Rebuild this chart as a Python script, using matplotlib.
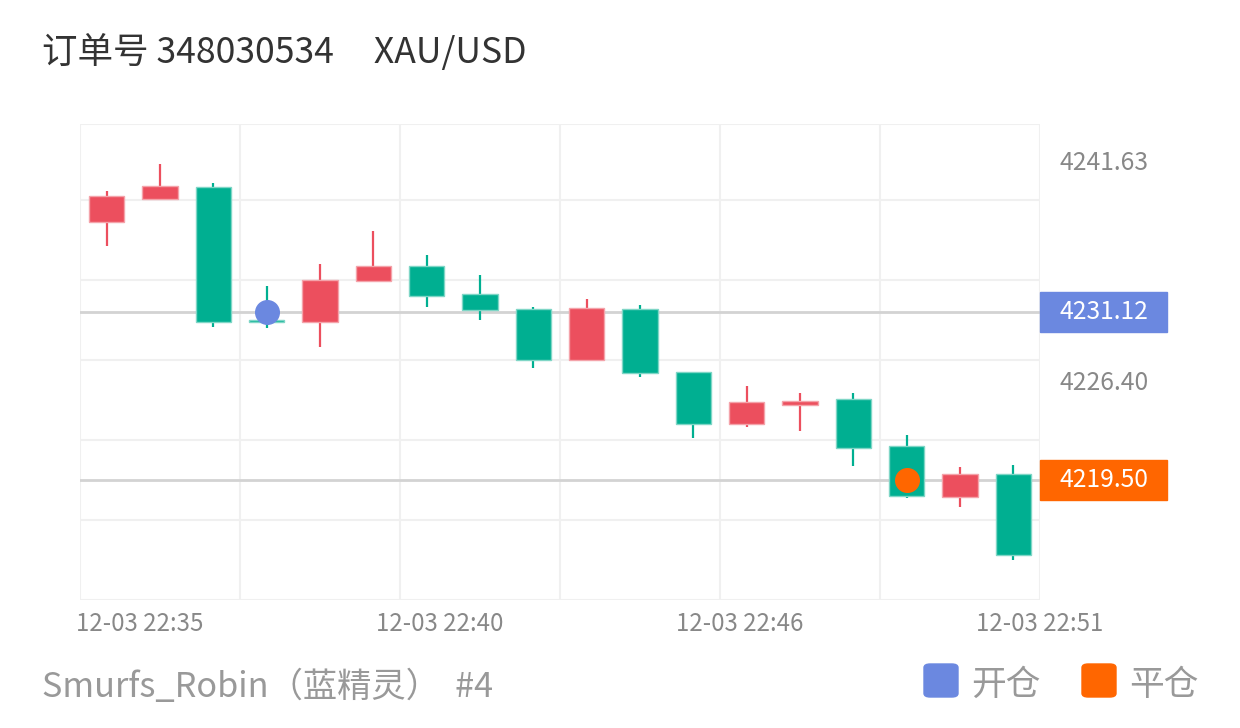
import matplotlib
matplotlib.use("Agg")
import matplotlib.pyplot as plt
from matplotlib.patches import Rectangle, FancyBboxPatch

plt.rcParams['font.family'] = ['Noto Sans CJK SC', 'DejaVu Sans']

# candle data
opens = [4237.32, 4238.95, 4239.76, 4230.52, 4230.42, 4233.23, 4234.29, 4232.35, 4231.34,
         4227.78, 4231.32, 4226.97, 4223.37, 4224.69, 4225.08, 4221.83, 4218.32, 4219.87]
closes = [4239.16, 4239.83, 4230.39, 4230.38, 4233.34, 4234.27, 4232.19, 4231.25, 4227.78,
          4231.40, 4226.86, 4223.33, 4224.86, 4224.97, 4221.71, 4218.35, 4219.87, 4214.26]
highs = [4239.48, 4241.37, 4240.02, 4232.91, 4234.43, 4236.71, 4235.05, 4233.65, 4231.45,
         4232.01, 4231.57, 4226.97, 4225.96, 4225.48, 4225.52, 4222.59, 4220.40, 4220.51]
lows = [4235.68, 4238.95, 4230.07, 4230.02, 4228.66, 4233.23, 4231.47, 4230.57, 4227.21,
        4227.78, 4226.61, 4222.41, 4223.13, 4222.89, 4220.45, 4218.25, 4217.63, 4213.92]

open_idx, open_price = 3, 4231.12
close_idx, close_price = 15, 4219.50

ytick_vals = [4241.63, 4226.40]
xtick_pos = [0.625, 6.25, 11.875, 17.5]
xtick_labels = ["12-03 22:35", "12-03 22:40", "12-03 22:46", "12-03 22:51"]

up_color = "#ec4f5e"
up_edge = "#f4a3aa"
down_color = "#00af91"
down_edge = "#7fd6c6"
blue = "#6b88e0"
orange = "#ff6600"

fig = plt.figure(figsize=(12.4, 7.28), dpi=100)
ax = fig.add_axes([80/1240, 128/728, 960/1240, 476/728])

y_min, y_max = 4211.17, 4244.12
ax.set_xlim(-0.5, len(opens) - 0.5)
ax.set_ylim(y_min, y_max)

# grid
step = 80 / 14.445
for k in range(1, 6):
    ax.axhline(y_min + k * step, color="#f0f0f0", lw=1.5, zorder=0)
ax.axhline(y_max, color="#f0f0f0", lw=1.5, zorder=0)
ax.axhline(y_min, color="#f0f0f0", lw=1.5, zorder=0)
for gx in range(0, len(opens) + 1, 3):
    ax.axvline(gx - 0.5, color="#f0f0f0", lw=1.5, zorder=0)

# price lines
ax.axhline(open_price, color="#d3d3d3", lw=2, zorder=1)
ax.axhline(close_price, color="#d3d3d3", lw=2, zorder=1)

# candles
for i in range(len(opens)):
    o, c, h, l = opens[i], closes[i], highs[i], lows[i]
    up = c >= o
    fc = up_color if up else down_color
    ec = up_edge if up else down_edge
    ax.vlines(i, l, h, color=fc, lw=1.6, zorder=2)
    bottom = min(o, c)
    height = max(abs(c - o), 0.2)
    ax.bar(i, height, bottom=bottom, width=0.66, color=fc, edgecolor=ec, lw=1, zorder=3)

# trade markers
ax.plot(open_idx, open_price, "o", ms=17, color=blue, zorder=4)
ax.plot(close_idx, close_price, "o", ms=17, color=orange, zorder=4)

for s in ax.spines.values():
    s.set_visible(False)

ax.yaxis.tick_right()
ax.set_yticks(ytick_vals)
ax.set_yticklabels(["%.2f" % v for v in ytick_vals])
ax.tick_params(axis="y", length=0, pad=14, labelsize=17.8, labelcolor="#888888")
ax.set_xticks(xtick_pos)
ax.set_xticklabels(xtick_labels)
ax.tick_params(axis="x", length=0, pad=8, labelsize=17.3, labelcolor="#888888")

# right side price tags
tr = ax.get_yaxis_transform()
box_h = 40 / 14.445
for price, col in [(open_price, blue), (close_price, orange)]:
    ax.add_patch(Rectangle((1.0, price - box_h / 2), 127 / 960, box_h, transform=tr,
                           color=col, clip_on=False, zorder=5))
    ax.text(1.0 + 20 / 960, price, "%.2f" % price, transform=tr, color="white",
            fontsize=17.8, ha="left", va="center", zorder=6, clip_on=False)

# title and footer
fig.text(42/1240, 1 - 52/728, "订单号 348030534     XAU/USD", fontsize=25.6,
         color="#333333", ha="left", va="center")
fig.text(42/1240, 1 - 687/728, "Smurfs_Robin（蓝精灵）  #4", fontsize=24.7,
         color="#999999", ha="left", va="center")

# legend
for x0, col, label in [(924, blue, "开仓"), (1082, orange, "平仓")]:
    fig.patches.append(FancyBboxPatch((x0/1240, 1 - 697/728), 34/1240, 33/728,
                                      boxstyle="round,pad=0,rounding_size=0.005",
                                      transform=fig.transFigure, color=col))
    fig.text((x0 + 47)/1240, 1 - 685/728, label, fontsize=25,
             color="#999999", ha="left", va="center")

fig.savefig("out.png", dpi=100, facecolor="white")
